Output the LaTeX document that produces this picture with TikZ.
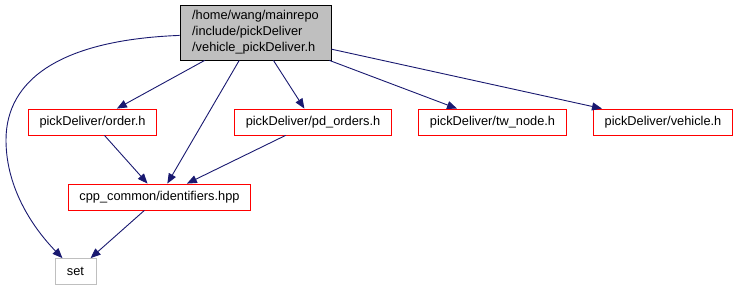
\documentclass[tikz,border=0pt]{standalone}
\usepackage{fontspec}
\setmainfont{Liberation Sans}
\usetikzlibrary{arrows,arrows.meta,positioning,shapes}
\definecolor{edgeblue}{HTML}{191970}
\definecolor{boxred}{HTML}{FF0000}
\definecolor{headgray}{HTML}{BFBFBF}

\begin{document}
\begin{tikzpicture}[x=1pt,y=-1pt,
            file/.style={draw,rectangle,minimum height=26pt,inner xsep=11pt,inner ysep=0pt,line width=.8pt,font=\fontsize{12.8}{16}\selectfont},
            inc/.style={file,draw=boxred},
            top/.style={file,draw=black,fill=headgray,align=left,minimum width=151pt,minimum height=55pt},
            sys/.style={file,draw=headgray,minimum width=41pt},
            dep/.style={draw=edgeblue,line width=.9pt,-{Triangle[length=10pt,width=8pt]}},
            every edge/.style={dep}
          ]
          \useasboundingbox (0,0) rectangle (740,291);

          %header
          \node[top] (main) at (255.5,32.5) {/home/wang/mainrepo\\/include/pickDeliver\\/vehicle\_pickDeliver.h};

          %includes
          \node[inc] (order) at (92.5,122) {pickDeliver/order.h};
          \node[inc] (pdorders) at (313,122) {pickDeliver/pd\_orders.h};
          \node[inc] (twnode) at (492.5,122) {pickDeliver/tw\_node.h};
          \node[inc] (vehicle) at (663,122) {pickDeliver/vehicle.h};
          \node[inc] (ids) at (159.5,197) {cpp\_common/identifiers.hpp};
          \node[sys] (set) at (75.5,271.5) {set};

          %long way round to set
          \draw[dep] (main) .. controls (60,40) and (6,80) .. (6,140)
                            .. controls (6,190) and (35,230) .. (set);
          \path
          (main) edge (order)
          (main) edge (ids)
          (main) edge (pdorders)
          (main) edge (twnode)
          (main) edge (vehicle)
          (order) edge (ids)
          (pdorders) edge (ids)
          (ids) edge (set)
          ;

      \end{tikzpicture}
\end{document}
